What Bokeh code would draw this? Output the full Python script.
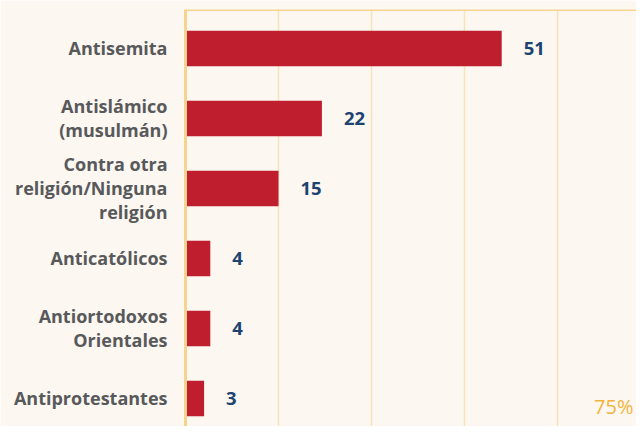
from bokeh.plotting import figure
from bokeh.models import Range1d, FixedTicker, Span, Label, ColumnDataSource
from bokeh.core.properties import value
from bokeh.embed import file_html
from bokeh.resources import INLINE

categories = ["Antisemita", "Antislámico\n(musulmán)", "Contra otra\nreligión/Ninguna\nreligión",
              "Anticatólicos", "Antiortodoxos\nOrientales", "Antiprotestantes"]
values = [51, 22, 15, 4, 4, 3]
grid_ticks = [15, 30, 45, 60, 75]
corner_tick_value = 75
corner_tick_label = "75%"

BG = "#fcf7f1"
RED = "#be1e2e"
GOLD = "#f6d38f"
GRID = "#f8e2b7"
GRAY = "#58595b"
BLUE = "#1d4370"
FONT = "Open Sans"

idx = list(range(len(categories)))
src = ColumnDataSource(dict(y=idx, v=values, t=[str(v) for v in values]))

p = figure(width=636, height=426, output_backend="svg", toolbar_location=None,
           x_range=Range1d(0, 72.74), y_range=Range1d(5.4, -0.557),
           min_border_left=185, min_border_right=0, min_border_top=9, min_border_bottom=0)
p.background_fill_color = BG
p.border_fill_color = BG
p.outline_line_color = None

p.xaxis.visible = False
p.xgrid.ticker = FixedTicker(ticks=grid_ticks)
p.xgrid.grid_line_color = GRID
p.xgrid.grid_line_width = 1.5
p.ygrid.grid_line_color = None

ax = p.yaxis[0]
ax.ticker = FixedTicker(ticks=idx)
ax.major_label_overrides = {i: c for i, c in zip(idx, categories)}
ax.axis_line_color = GOLD
ax.axis_line_width = 3
ax.major_tick_line_color = None
ax.minor_tick_line_color = None
ax.major_label_standoff = 12
ax.major_label_text_font = FONT
ax.major_label_text_font_style = "bold"
ax.major_label_text_font_size = "18px"
ax.major_label_text_color = GRAY
ax.major_label_text_line_height = 1.0

p.add_layout(Span(location=-0.557, dimension="width", line_color=GOLD, line_width=3))

p.hbar(y="y", right="v", left=0, height=0.51, source=src, fill_color=RED, line_color=None)
p.text(x="v", y="y", text="t", source=src, x_offset=22, text_align="left", text_baseline="middle",
       text_font=value(FONT), text_font_style="bold", text_font_size="18.5px", text_color=BLUE)

p.add_layout(Label(x=corner_tick_value, y=5.12, x_offset=-17, text=corner_tick_label, text_align="right",
                   text_baseline="middle", text_font=FONT, text_font_size="20px", text_color="#f2b43e"))

open("out.html", "w").write(file_html(p, INLINE))
